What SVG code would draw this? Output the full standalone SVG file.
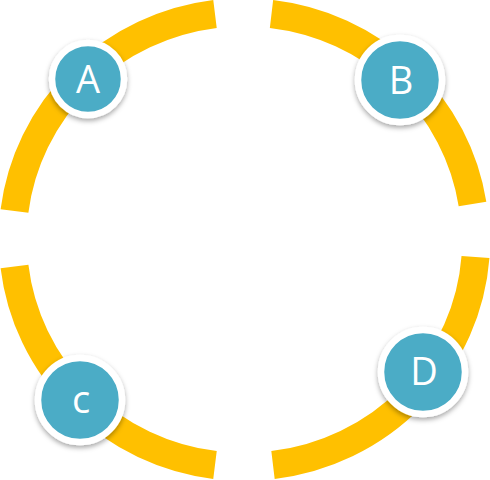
<svg xmlns="http://www.w3.org/2000/svg" width="490" height="480" viewBox="0 0 490 480">
  <defs>
    <filter id="sh" x="-30%" y="-30%" width="160%" height="170%">
      <feDropShadow dx="0" dy="2.5" stdDeviation="2.5" flood-color="#000" flood-opacity="0.35"/>
    </filter>
  </defs>
  <style>
    .arc { fill: none; stroke: #FFC000; stroke-width: 28; stroke-linecap: butt; }
    .node { fill: #4BACC6; stroke: #FFFFFF; stroke-width: 6.5; filter: url(#sh); }
    .lbl { fill: #FFFFFF; font-family: "Open Sans", "Noto Sans", "DejaVu Sans", sans-serif; font-size: 38px; text-anchor: middle; }
  </style>
  <g id="connectors">
    <path class="arc" d="M14.5,211 A231.5,227 0 0 1 215,14"/>
    <path class="arc" d="M271.5,14 A231.5,227 0 0 1 472.5,204"/>
    <path class="arc" d="M475.5,257 A231.5,227 0 0 1 273,465"/>
    <path class="arc" d="M215,465 A231.5,227 0 0 1 14.5,266.5"/>
  </g>
  <g id="node-A">
    <circle class="node" cx="88" cy="79" r="36"/>
    <text class="lbl" x="88" y="93">A</text>
  </g>
  <g id="node-B">
    <circle class="node" cx="400" cy="80" r="42"/>
    <text class="lbl" x="401" y="94">B</text>
  </g>
  <g id="node-C">
    <circle class="node" cx="80" cy="400" r="42"/>
    <text class="lbl" x="81" y="413">c</text>
  </g>
  <g id="node-D">
    <circle class="node" cx="423" cy="372" r="42"/>
    <text class="lbl" x="424" y="385">D</text>
  </g>
</svg>
